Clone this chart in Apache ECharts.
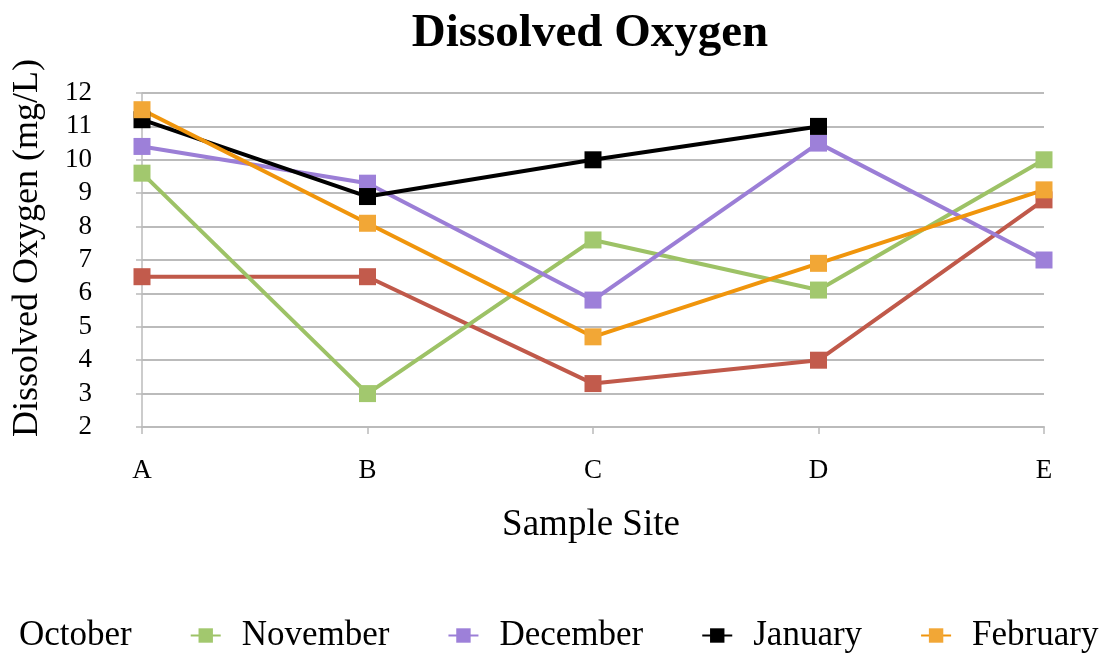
<!DOCTYPE html>
<html>
<head>
<meta charset="utf-8">
<script src="https://cdn.jsdelivr.net/npm/echarts@6/dist/echarts.min.js"></script>
<style>
  html, body { margin: 0; padding: 0; background: #fff; }
  #chart { width: 1104px; height: 654px; }
</style>
</head>
<body>
<div id="chart"></div>
<script>
// Sample sites along the x axis
const sites = ['A', 'B', 'C', 'D', 'E'];

// Dissolved oxygen readings (mg/L) per month
const october  = [6.5, 6.5, 3.3, 4.0, 8.8];
const november = [9.6, 3.0, 7.6, 6.1, 10.0];
const december = [10.4, 9.3, 5.8, 10.5, 7.0];
const january  = [11.2, 8.9, 10.0, 11.0, null];
const february = [11.5, 8.1, 4.7, 6.9, 9.1];

const months = ['October', 'November', 'December', 'January', 'February'];
const monthValues = [october, november, december, january, february];
const lineColors = ['#C0594A', '#9DC266', '#9B7ED6', '#000000', '#F0950C'];
const markerColors = ['#C25B4C', '#A2C86E', '#9D80D9', '#000000', '#F2A736'];

const serif = '"Liberation Serif", "Times New Roman", serif';

const chart = echarts.init(document.getElementById('chart'));

chart.setOption({
  backgroundColor: '#ffffff',
  animation: false,
  title: {
    text: 'Dissolved Oxygen',
    left: 590,
    textAlign: 'center',
    top: 10,
    padding: 0,
    textStyle: { fontFamily: serif, fontWeight: 'bold', fontSize: 47, color: '#000' }
  },
  legend: {
    top: 618,
    left: -33,
    padding: 0,
    itemWidth: 30,
    itemHeight: 18,
    itemGap: 58,
    textStyle: { fontFamily: serif, fontSize: 35, color: '#000', padding: [0, 0, 0, 16] },
    data: months
  },
  grid: { left: 142, right: 60, top: 93, bottom: 227, containLabel: false },
  xAxis: {
    type: 'category',
    data: sites,
    boundaryGap: false,
    name: 'Sample Site',
    nameLocation: 'middle',
    nameGap: 80,
    nameTextStyle: { fontFamily: serif, fontSize: 37, color: '#000', padding: [0, 4, 0, 0] },
    axisLine: { lineStyle: { color: '#BBBBBB', width: 2 } },
    axisTick: { show: true, alignWithLabel: true, length: 7, lineStyle: { color: '#BBBBBB', width: 1.5 } },
    axisLabel: { fontFamily: serif, fontSize: 27, color: '#000', margin: 30 },
    splitLine: { show: false }
  },
  yAxis: {
    type: 'value',
    min: 2,
    max: 12,
    interval: 1,
    name: 'Dissolved Oxygen (mg/L)',
    nameLocation: 'middle',
    nameRotate: 90,
    nameGap: 96,
    nameTextStyle: { fontFamily: serif, fontSize: 36, color: '#000', padding: [0, 0, 0, 24] },
    axisLine: { show: true, lineStyle: { color: '#BBBBBB', width: 1.5 } },
    axisTick: { show: true, length: 6, lineStyle: { color: '#BBBBBB', width: 1.5 } },
    axisLabel: { fontFamily: serif, fontSize: 27, color: '#000', margin: 50 },
    splitLine: { show: true, lineStyle: { color: '#BBBBBB', width: 2 } }
  },
  series: months.map((m, i) => ({
    name: m,
    type: 'line',
    data: monthValues[i],
    symbol: 'rect',
    symbolSize: 17,
    connectNulls: false,
    lineStyle: { color: lineColors[i], width: 4 },
    itemStyle: { color: markerColors[i], borderColor: markerColors[i], borderWidth: 0 },
    emphasis: { disabled: true }
  }))
});
</script>
</body>
</html>
